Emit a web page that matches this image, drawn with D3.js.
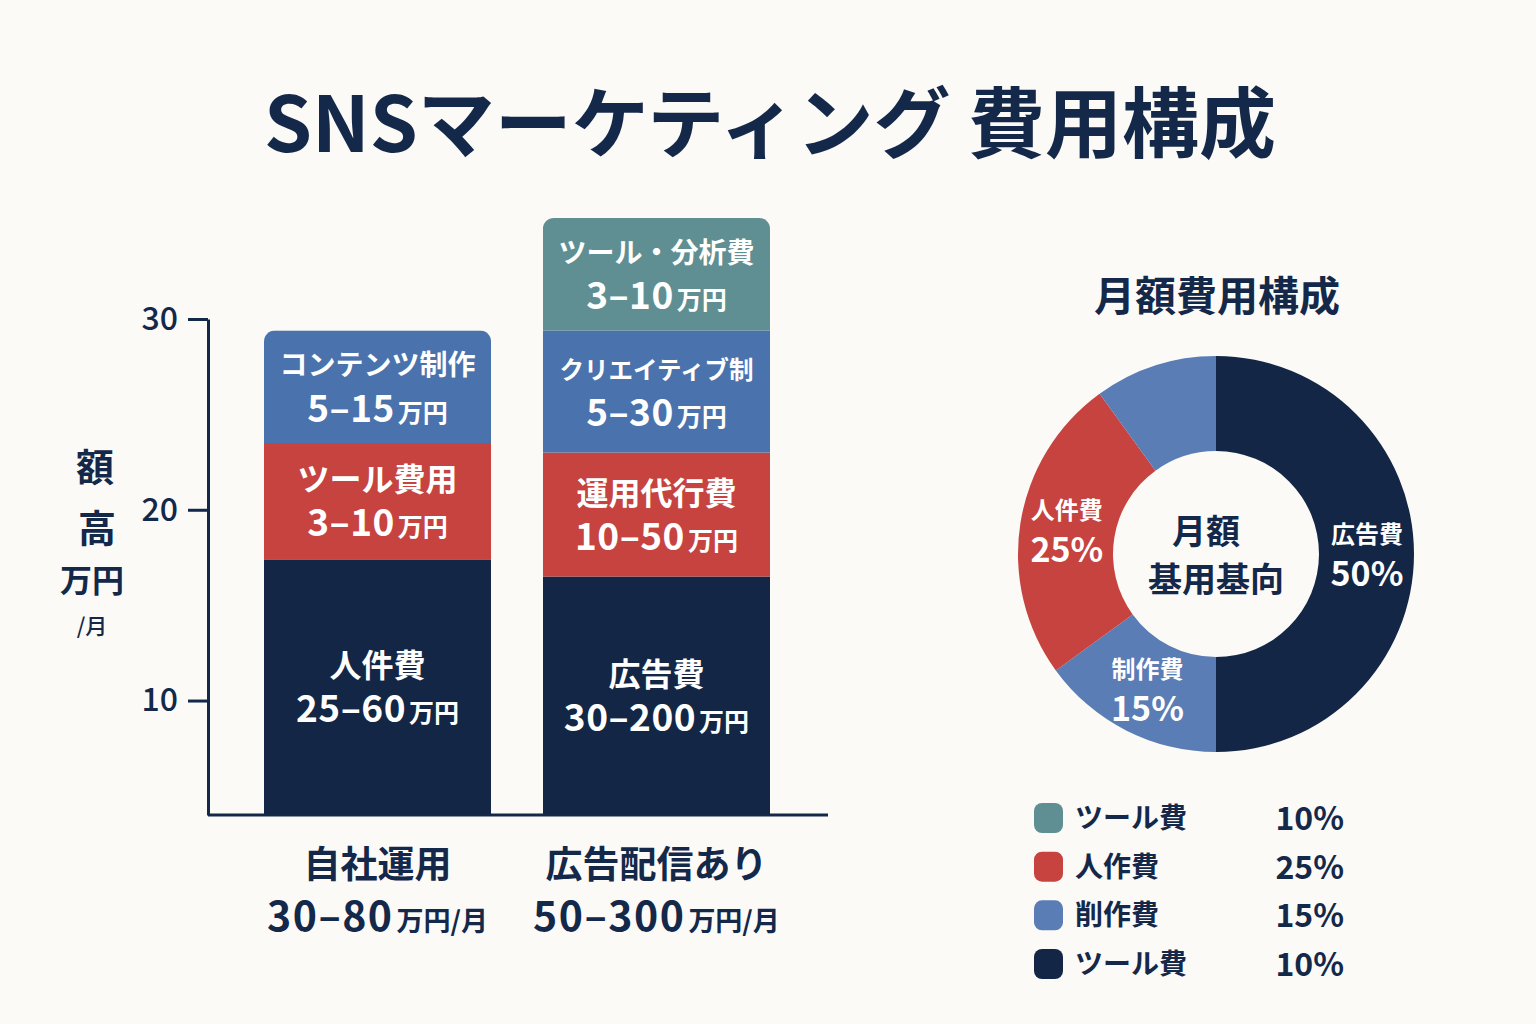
<!DOCTYPE html>
<html>
<head>
<meta charset="utf-8">
<script src="https://cdn.jsdelivr.net/npm/d3@7"></script>
<style>
  body { margin: 0; background: #fbfaf7; }
  #chart { width: 1536px; height: 1024px; }
  text { font-family: "Noto Sans CJK JP", "Noto Sans", sans-serif; }
</style>
</head>
<body>
<div id="chart"></div>
<script>
// data
const categories = ["自社運用", "広告配信あり"];
const categoryRanges = ["30–80", "50–300"];
const segmentNames = [
    ["人件費", "ツール費用", "コンテンツ制作"],
    ["広告費", "運用代行費", "クリエイティブ制", "ツール・分析費"]
];
const segmentRanges = [
    ["25–60", "3–10", "5–15"],
    ["30–200", "10–50", "5–30", "3–10"]
];
const segmentValues = [
    [13.4, 6.1, 5.9],
    [12.5, 6.5, 6.4, 5.9]
];
const yTicks = [10, 20, 30];
const yBase = 4;

const pieNames = ["広告費", "制作費", "人件費", "ツール費"];
const pieValues = [50, 15, 25, 10];
const pieShown = [true, true, true, false];

const legendNames = ["ツール費", "人作費", "削作費", "ツール費"];
const legendValues = [10, 25, 15, 10];

/*
SVG
*/
const width = 1536, height = 1024;
const navy = "#14284a";

const svg = d3.select("#chart")
    .append("svg")
    .attr("width", width)
    .attr("height", height);

svg.append("rect").attr("width", width).attr("height", height).attr("fill", "#fbfaf7");

svg.append("text")
    .attr("x", 770)
    .attr("y", 152)
    .attr("text-anchor", "middle")
    .attr("font-size", 77)
    .attr("font-weight", 700)
    .attr("fill", navy)
    .text("SNSマーケティング 費用構成");

/*
SCALES
*/
const yScale = d3.scaleLinear()
    .domain([yBase, 30])
    .range([815, 319]);

const xScale = d3.scaleBand()
    .domain(categories)
    .range([264, 770])
    .paddingInner(0.186)
    .paddingOuter(0);

const stackColor = d3.scaleOrdinal()
    .domain([0, 1, 2, 3])
    .range(["#132646", "#c64340", "#4a72ad", "#5f8f93"]);

/*
AXES
*/
const yAxis = svg.append("g")
    .attr("transform", "translate(208,0)")
    .call(d3.axisLeft(yScale).tickValues(yTicks).tickSize(20).tickSizeOuter(0).tickPadding(10));

yAxis.select(".domain").attr("stroke", navy).attr("stroke-width", 3);
yAxis.selectAll(".tick line").attr("stroke", navy).attr("stroke-width", 3);
yAxis.selectAll(".tick text")
    .attr("font-size", 32)
    .attr("font-weight", 500)
    .attr("fill", navy)
    .attr("font-family", "\"Noto Sans CJK JP\", sans-serif");

svg.append("line")
    .attr("x1", 208).attr("x2", 828)
    .attr("y1", yScale(yBase)).attr("y2", yScale(yBase))
    .attr("stroke", navy)
    .attr("stroke-width", 3);

// y axis title
const yTitle = svg.append("g").attr("fill", navy).attr("font-weight", 700).attr("text-anchor", "middle");
yTitle.append("text").attr("x", 95).attr("y", 481).attr("font-size", 38).text("額");
yTitle.append("text").attr("x", 97).attr("y", 542).attr("font-size", 38).text("高");
yTitle.append("text").attr("x", 92).attr("y", 592).attr("font-size", 32).text("万円");
yTitle.append("text").attr("x", 92).attr("y", 634).attr("font-size", 22).attr("font-weight", 500).text("/月");

/*
BARS
*/
categories.forEach(function(cat, i) {
    let x0 = xScale(cat);
    let bw = xScale.bandwidth();
    let tops = d3.cumsum(segmentValues[i]).map(function(v) { return yBase + v; });
    let total = tops[tops.length - 1];

    let clipId = "clip" + i;
    svg.append("clipPath").attr("id", clipId)
        .append("rect")
        .attr("x", x0).attr("y", yScale(total))
        .attr("width", bw).attr("height", yScale(yBase) - yScale(total) + 20)
        .attr("rx", 11);

    let g = svg.append("g").attr("clip-path", `url(#${clipId})`);

    let segs = segmentValues[i].map(function(v, j) {
        return { lo: j === 0 ? yBase : tops[j - 1], hi: tops[j], j: j };
    });

    g.selectAll("rect")
        .data(segs)
        .enter()
        .append("rect")
            .attr("x", x0)
            .attr("y", function(d) { return yScale(d.hi); })
            .attr("width", bw)
            .attr("height", function(d) { return yScale(d.lo) - yScale(d.hi); })
            .attr("fill", function(d) { return stackColor(d.j); });

    // two-line label in one text element: name, then range
    let cx = x0 + bw / 2;
    segs.forEach(function(d) {
        let mid = (yScale(d.lo) + yScale(d.hi)) / 2;
        let name = segmentNames[i][d.j];
        let fs = Math.min(32, 196 / name.length);
        let y1 = mid - 22 + fs * 0.38;
        let t = svg.append("text")
            .attr("text-anchor", "middle")
            .attr("font-weight", 700)
            .attr("fill", "#ffffff");
        t.append("tspan").attr("x", cx).attr("y", y1).attr("font-size", fs).text(name);
        t.append("tspan").attr("x", cx).attr("y", mid + 35)
            .attr("font-size", 37).attr("font-weight", 600).attr("letter-spacing", 0.5)
            .text(segmentRanges[i][d.j]);
        t.append("tspan").attr("font-size", 25).attr("dx", 3).text("万円");
    });

    // category labels
    let c = svg.append("text")
        .attr("text-anchor", "middle")
        .attr("font-weight", 700)
        .attr("fill", navy);
    c.append("tspan").attr("x", cx).attr("y", 878).attr("font-size", 37).text(cat);
    c.append("tspan").attr("x", cx).attr("y", 931)
        .attr("font-size", 41).attr("font-weight", 600).attr("letter-spacing", 1.5)
        .text(categoryRanges[i]);
    c.append("tspan").attr("font-size", 27).attr("dx", 3).text("万円/月");
});

/*
DONUT
*/
const cxP = 1216, cyP = 554;
const outerR = 198, innerR = 103;

svg.append("text")
    .attr("x", 1217).attr("y", 311)
    .attr("text-anchor", "middle")
    .attr("font-size", 41)
    .attr("font-weight", 700)
    .attr("fill", navy)
    .text("月額費用構成");

const pieColor = d3.scaleOrdinal()
    .domain(pieNames)
    .range(["#132646", "#5a7db6", "#c64340", "#5a7db6"]);

const pie = d3.pie().sort(null).value(function(d) { return d; });
const arc = d3.arc().innerRadius(innerR).outerRadius(outerR);
const arcs = pie(pieValues);

const donut = svg.append("g").attr("transform", `translate(${cxP},${cyP})`);

donut.selectAll("path")
    .data(arcs)
    .enter()
    .append("path")
        .attr("d", arc)
        .attr("fill", function(d, i) { return pieColor(pieNames[i]); });

const labelArc = d3.arc().innerRadius(151).outerRadius(151);
arcs.forEach(function(d, i) {
    if (!pieShown[i]) return;
    let c = labelArc.centroid(d);
    let t = donut.append("text")
        .attr("text-anchor", "middle")
        .attr("font-weight", 700)
        .attr("fill", "#ffffff");
    t.append("tspan").attr("x", c[0]).attr("y", c[1] - 11).attr("font-size", 24).text(pieNames[i]);
    t.append("tspan").attr("x", c[0]).attr("y", c[1] + 32)
        .attr("font-size", 34).attr("font-weight", 600)
        .text(pieValues[i] + "%");
});

const centre = donut.append("text")
    .attr("text-anchor", "middle")
    .attr("font-size", 34)
    .attr("font-weight", 700)
    .attr("fill", navy);
centre.append("tspan").attr("x", -10).attr("y", -10).text("月額");
centre.append("tspan").attr("x", 0).attr("y", 38).text("基用基向");

/*
LEGEND
*/
const legendColor = ["#5f8f93", "#c64340", "#5a7db6", "#132646"];
const legendY = d3.scaleLinear().domain([0, 3]).range([818, 964]);

const legend = svg.append("g");
legendNames.forEach(function(name, i) {
    let y = legendY(i);
    legend.append("rect")
        .attr("x", 1034).attr("y", y - 15)
        .attr("width", 29).attr("height", 30)
        .attr("rx", 8)
        .attr("fill", legendColor[i]);
    legend.append("text")
        .attr("x", 1075).attr("y", y + 10)
        .attr("font-size", 28)
        .attr("font-weight", 700)
        .attr("fill", navy)
        .text(name);
    legend.append("text")
        .attr("x", 1344).attr("y", y + 12)
        .attr("text-anchor", "end")
        .attr("font-size", 32)
        .attr("font-weight", 600)
        .attr("fill", navy)
        .text(legendValues[i] + "%");
});
</script>
</body>
</html>
